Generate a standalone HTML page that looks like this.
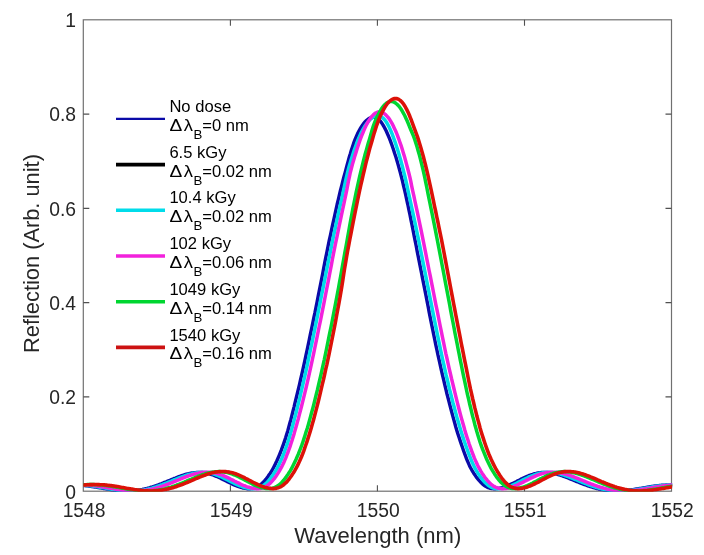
<!DOCTYPE html>
<html><head><meta charset="utf-8"><title>Reflection spectra</title>
<style>
html,body{margin:0;padding:0;background:#fff;}
svg{display:block}
text{font-family:"Liberation Sans",sans-serif;fill:#262626}
.tk{font-size:19.3px}
.ax{font-size:21.5px}
.lg{font-size:16px;fill:#000}
.sym{font-family:"Liberation Sans","DejaVu Sans",sans-serif;font-size:16.5px;fill:#000}
.sub{font-size:12.8px;fill:#000}
</style></head><body>
<svg width="704" height="555" viewBox="0 0 704 555">
<rect width="704" height="555" fill="#fff"/>
<g fill="none" stroke="#707070" stroke-width="1.2">
<rect x="83.3" y="19.8" width="588.2" height="471.4"/>
</g>
<g fill="none" stroke="#505050" stroke-width="1.1">
<path d="M230.4 491.2 v-6 M230.4 19.8 v6"/>
<path d="M377.4 491.2 v-6 M377.4 19.8 v6"/>
<path d="M524.5 491.2 v-6 M524.5 19.8 v6"/>
<path d="M83.3 396.9 h6 M671.5 396.9 h-6"/>
<path d="M83.3 302.6 h6 M671.5 302.6 h-6"/>
<path d="M83.3 208.4 h6 M671.5 208.4 h-6"/>
<path d="M83.3 114.1 h6 M671.5 114.1 h-6"/>
</g>
<clipPath id="c"><rect x="83.3" y="19.8" width="588.8" height="472.0"/></clipPath>
<g clip-path="url(#c)">
<polyline points="19.0,490.4 20.1,490.3 21.2,490.2 22.3,490.1 23.4,490.0 24.5,489.9 25.6,489.8 26.7,489.7 27.8,489.5 28.9,489.4 30.0,489.2 31.1,489.1 32.2,488.9 33.3,488.8 34.4,488.6 35.5,488.5 36.6,488.3 37.7,488.2 38.8,488.0 39.9,487.8 41.0,487.7 42.1,487.5 43.2,487.4 44.3,487.2 45.4,487.0 46.5,486.9 47.6,486.7 48.7,486.6 49.8,486.4 50.9,486.3 52.0,486.1 53.1,486.0 54.2,485.9 55.3,485.8 56.5,485.6 57.6,485.5 58.7,485.4 59.8,485.3 60.9,485.2 62.0,485.2 63.1,485.1 64.2,485.0 65.3,485.0 66.4,484.9 67.5,484.9 68.6,484.9 69.7,484.8 70.8,484.8 71.9,484.8 73.0,484.9 74.1,484.9 75.2,484.9 76.3,485.0 77.4,485.0 78.5,485.1 79.6,485.1 80.7,485.2 81.8,485.3 82.9,485.4 84.0,485.5 85.1,485.6 86.2,485.8 87.3,485.9 88.4,486.0 89.5,486.2 90.6,486.3 91.7,486.5 92.8,486.7 93.9,486.8 95.0,487.0 96.1,487.2 97.2,487.4 98.3,487.6 99.4,487.7 100.6,487.9 101.7,488.1 102.8,488.3 103.9,488.5 105.0,488.7 106.1,488.9 107.2,489.0 108.3,489.2 109.4,489.4 110.5,489.6 111.6,489.7 112.7,489.9 113.8,490.0 114.9,490.2 116.0,490.3 117.1,490.4 118.2,490.5 119.3,490.6 120.4,490.7 121.5,490.8 122.6,490.9 123.7,490.9 124.8,491.0 125.9,491.0 127.0,491.0 128.1,491.0 129.2,491.0 130.3,490.9 131.4,490.9 132.5,490.8 133.6,490.7 134.7,490.6 135.8,490.5 136.9,490.4 138.0,490.2 139.1,490.1 140.2,489.9 141.3,489.7 142.4,489.5 143.5,489.2 144.7,489.0 145.8,488.7 146.9,488.5 148.0,488.2 149.1,487.9 150.2,487.5 151.3,487.2 152.4,486.9 153.5,486.5 154.6,486.2 155.7,485.8 156.8,485.4 157.9,485.0 159.0,484.6 160.1,484.2 161.2,483.8 162.3,483.3 163.4,482.9 164.5,482.4 165.6,482.0 166.7,481.6 167.8,481.1 168.9,480.7 170.0,480.2 171.1,479.7 172.2,479.3 173.3,478.9 174.4,478.4 175.5,478.0 176.6,477.5 177.7,477.1 178.8,476.7 179.9,476.3 181.0,475.9 182.1,475.5 183.2,475.2 184.3,474.8 185.4,474.5 186.5,474.2 187.6,473.9 188.8,473.7 189.9,473.4 191.0,473.2 192.1,473.0 193.2,472.8 194.3,472.7 195.4,472.6 196.5,472.5 197.6,472.4 198.7,472.4 199.8,472.4 200.9,472.5 202.0,472.5 203.1,472.6 204.2,472.8 205.3,472.9 206.4,473.1 207.5,473.4 208.6,473.6 209.7,473.9 210.8,474.3 211.9,474.6 213.0,475.0 214.1,475.4 215.2,475.9 216.3,476.3 217.4,476.8 218.5,477.3 219.6,477.8 220.7,478.3 221.8,478.9 222.9,479.4 224.0,480.0 225.1,480.5 226.2,481.1 227.3,481.7 228.5,482.2 229.6,482.8 230.7,483.3 231.8,483.8 232.9,484.4 234.1,484.9 235.2,485.3 236.3,485.8 237.4,486.2 238.6,486.6 239.7,487.0 240.8,487.4 242.0,487.7 243.1,488.0 244.2,488.2 245.4,488.4 246.5,488.5 247.7,488.7 248.8,488.7 249.9,488.7 251.1,488.6 252.2,488.5 253.3,488.3 254.5,488.0 255.6,487.6 256.8,487.1 257.9,486.5 259.0,485.8 260.2,485.0 261.3,484.1 262.4,483.1 263.5,481.9 264.7,480.7 265.8,479.4 266.9,477.9 268.0,476.4 269.1,474.8 270.3,473.2 271.4,471.4 272.5,469.5 273.6,467.5 274.7,465.4 275.8,463.1 276.9,460.8 278.0,458.3 279.1,455.7 280.2,453.0 281.3,450.2 282.4,447.2 283.5,444.1 284.6,440.9 285.7,437.6 286.7,434.2 287.8,430.7 288.8,427.0 289.8,423.3 290.9,419.4 291.9,415.4 292.9,411.3 294.0,407.1 295.0,402.9 296.1,398.5 297.2,394.0 298.3,389.4 299.4,384.8 300.5,380.0 301.6,375.2 302.7,370.3 303.8,365.3 304.9,360.3 306.0,355.2 307.1,350.0 308.2,344.8 309.3,339.5 310.4,334.1 311.6,328.7 312.7,323.3 313.8,317.8 315.0,312.4 316.1,306.8 317.2,301.3 318.3,295.7 319.4,290.2 320.5,284.6 321.6,279.1 322.7,273.5 323.7,268.0 324.8,262.4 325.9,256.9 327.0,251.5 328.1,246.0 329.2,240.6 330.4,235.3 331.5,230.0 332.6,224.8 333.8,219.6 334.9,214.5 336.0,209.5 337.1,204.5 338.3,199.7 339.4,194.9 340.5,190.2 341.7,185.7 342.8,181.2 343.9,176.9 345.1,172.6 346.2,168.5 347.2,164.6 348.3,160.7 349.3,157.0 350.4,153.5 351.4,150.0 352.5,146.8 353.5,143.7 354.6,140.7 355.7,137.9 356.9,135.3 358.0,132.8 359.2,130.5 360.4,128.4 361.6,126.5 362.8,124.7 364.0,123.1 365.2,121.7 366.4,120.5 367.6,119.5 368.8,118.6 370.0,118.0 371.1,117.5 372.3,117.2 373.4,117.1 374.5,117.2 375.5,117.5 376.6,118.0 377.7,118.6 378.7,119.5 379.7,120.5 380.8,121.7 381.8,123.1 382.8,124.7 383.9,126.5 384.9,128.4 386.0,130.5 387.0,132.8 388.1,135.3 389.2,137.9 390.3,140.7 391.4,143.7 392.5,146.8 393.6,150.0 394.7,153.5 395.9,157.0 397.0,160.7 398.1,164.6 399.2,168.5 400.3,172.6 401.4,176.9 402.5,181.2 403.5,185.7 404.6,190.2 405.7,194.9 406.7,199.7 407.8,204.5 408.8,209.5 409.9,214.5 410.9,219.6 412.0,224.8 413.0,230.0 414.0,235.3 415.1,240.6 416.2,246.0 417.2,251.5 418.3,256.9 419.4,262.4 420.5,268.0 421.6,273.5 422.7,279.1 423.8,284.6 424.9,290.2 426.0,295.7 427.1,301.3 428.2,306.8 429.2,312.4 430.3,317.8 431.4,323.3 432.5,328.7 433.6,334.1 434.7,339.5 435.8,344.8 436.9,350.0 438.0,355.2 439.2,360.3 440.3,365.3 441.4,370.3 442.5,375.2 443.7,380.0 444.8,384.8 445.9,389.4 447.0,394.0 448.2,398.5 449.3,402.9 450.4,407.1 451.5,411.3 452.6,415.4 453.7,419.4 454.8,423.3 455.8,427.0 456.9,430.7 458.0,434.2 459.1,437.6 460.2,440.9 461.3,444.1 462.4,447.2 463.4,450.2 464.4,453.0 465.4,455.7 466.4,458.3 467.4,460.8 468.4,463.1 469.4,465.4 470.4,467.5 471.5,469.5 472.6,471.4 473.7,473.2 474.8,474.8 475.9,476.4 477.0,477.9 478.2,479.4 479.3,480.7 480.4,481.9 481.5,483.1 482.6,484.1 483.7,485.0 484.9,485.8 486.0,486.5 487.1,487.1 488.2,487.6 489.3,488.0 490.5,488.3 491.6,488.5 492.7,488.6 493.8,488.7 495.0,488.7 496.1,488.7 497.2,488.5 498.3,488.4 499.4,488.2 500.6,488.0 501.7,487.7 502.8,487.4 503.9,487.0 505.1,486.6 506.2,486.2 507.3,485.8 508.4,485.3 509.5,484.9 510.6,484.4 511.7,483.8 512.9,483.3 514.0,482.8 515.1,482.2 516.2,481.7 517.3,481.1 518.4,480.5 519.5,480.0 520.6,479.4 521.7,478.9 522.8,478.3 523.9,477.8 525.0,477.3 526.1,476.8 527.2,476.3 528.3,475.9 529.4,475.4 530.5,475.0 531.6,474.6 532.7,474.3 533.8,473.9 534.9,473.6 536.0,473.4 537.1,473.1 538.2,472.9 539.3,472.8 540.4,472.6 541.6,472.5 542.7,472.5 543.8,472.4 544.9,472.4 546.0,472.4 547.1,472.5 548.2,472.6 549.3,472.7 550.4,472.8 551.5,473.0 552.6,473.2 553.7,473.4 554.8,473.7 555.9,473.9 557.0,474.2 558.1,474.5 559.2,474.8 560.3,475.2 561.4,475.5 562.5,475.9 563.6,476.3 564.7,476.7 565.8,477.1 566.9,477.5 568.0,478.0 569.1,478.4 570.2,478.9 571.3,479.3 572.4,479.7 573.5,480.2 574.6,480.7 575.7,481.1 576.8,481.6 577.9,482.0 579.0,482.4 580.1,482.9 581.2,483.3 582.3,483.8 583.4,484.2 584.5,484.6 585.7,485.0 586.8,485.4 587.9,485.8 589.0,486.2 590.1,486.5 591.2,486.9 592.3,487.2 593.4,487.5 594.5,487.9 595.6,488.2 596.7,488.5 597.8,488.7 598.9,489.0 600.0,489.2 601.1,489.5 602.2,489.7 603.3,489.9 604.4,490.1 605.5,490.2 606.6,490.4 607.7,490.5 608.8,490.6 609.9,490.7 611.0,490.8 612.1,490.9 613.2,490.9 614.3,491.0 615.4,491.0 616.5,491.0 617.6,491.0 618.7,491.0 619.8,490.9 620.9,490.9 622.0,490.8 623.1,490.7 624.2,490.6 625.3,490.5 626.4,490.4 627.5,490.3 628.6,490.2 629.8,490.0 630.9,489.9 632.0,489.7 633.1,489.6 634.2,489.4 635.3,489.2 636.4,489.0 637.5,488.9 638.6,488.7 639.7,488.5 640.8,488.3 641.9,488.1 643.0,487.9 644.1,487.7 645.2,487.6 646.3,487.4 647.4,487.2 648.5,487.0 649.6,486.8 650.7,486.7 651.8,486.5 652.9,486.3 654.0,486.2 655.1,486.0 656.2,485.9 657.3,485.8 658.4,485.6 659.5,485.5 660.6,485.4 661.7,485.3 662.8,485.2 663.9,485.1 665.0,485.1 666.1,485.0 667.2,485.0 668.3,484.9 669.4,484.9 670.5,484.9 671.6,484.8 672.7,484.8 673.9,484.8 675.0,484.9 676.1,484.9 677.2,484.9 678.3,485.0 679.4,485.0 680.5,485.1 681.6,485.2 682.7,485.2 683.8,485.3 684.9,485.4 686.0,485.5 687.1,485.6 688.2,485.8 689.3,485.9 690.4,486.0 691.5,486.1 692.6,486.3 693.7,486.4 694.8,486.6 695.9,486.7 697.0,486.9 698.1,487.0 699.2,487.2 700.3,487.4 701.4,487.5 702.5,487.7 703.6,487.8 704.7,488.0 705.8,488.2 706.9,488.3 708.0,488.5 709.1,488.6 710.2,488.8 711.3,488.9 712.4,489.1 713.5,489.2 714.6,489.4 715.7,489.5 716.8,489.7 718.0,489.8 719.1,489.9 720.2,490.0 721.3,490.1 722.4,490.2 723.5,490.3 724.6,490.4" fill="none" stroke="#0A0AA8" stroke-width="3.4" stroke-linejoin="round"/>
<polyline points="22.5,490.4 23.6,490.3 24.7,490.2 25.8,490.1 26.9,490.0 28.0,489.9 29.1,489.8 30.2,489.6 31.3,489.5 32.4,489.4 33.5,489.2 34.6,489.1 35.7,488.9 36.8,488.8 37.9,488.6 39.0,488.5 40.1,488.3 41.2,488.2 42.3,488.0 43.4,487.8 44.5,487.7 45.6,487.5 46.8,487.3 47.9,487.2 49.0,487.0 50.1,486.9 51.2,486.7 52.3,486.6 53.4,486.4 54.5,486.3 55.6,486.1 56.7,486.0 57.8,485.9 58.9,485.7 60.0,485.6 61.1,485.5 62.2,485.4 63.3,485.3 64.4,485.2 65.5,485.1 66.6,485.1 67.7,485.0 68.8,484.9 69.9,484.9 71.0,484.9 72.1,484.8 73.2,484.8 74.3,484.8 75.4,484.8 76.5,484.8 77.6,484.9 78.7,484.9 79.8,484.9 80.9,485.0 82.0,485.0 83.1,485.1 84.2,485.2 85.3,485.3 86.4,485.4 87.5,485.5 88.6,485.6 89.7,485.7 90.8,485.9 92.0,486.0 93.1,486.2 94.2,486.3 95.3,486.5 96.4,486.6 97.5,486.8 98.6,487.0 99.7,487.2 100.8,487.4 101.9,487.5 103.0,487.7 104.1,487.9 105.2,488.1 106.3,488.3 107.4,488.5 108.5,488.7 109.6,488.9 110.7,489.0 111.8,489.2 112.9,489.4 114.0,489.6 115.1,489.7 116.2,489.9 117.3,490.0 118.4,490.2 119.5,490.3 120.6,490.4 121.7,490.5 122.8,490.6 123.9,490.7 125.0,490.8 126.1,490.9 127.2,490.9 128.3,491.0 129.4,491.0 130.5,491.0 131.6,491.0 132.7,491.0 133.8,490.9 134.9,490.9 136.1,490.8 137.2,490.7 138.3,490.6 139.4,490.5 140.5,490.4 141.6,490.2 142.7,490.1 143.8,489.9 144.9,489.7 146.0,489.5 147.1,489.2 148.2,489.0 149.3,488.7 150.4,488.4 151.5,488.2 152.6,487.9 153.7,487.5 154.8,487.2 155.9,486.9 157.0,486.5 158.1,486.1 159.2,485.8 160.3,485.4 161.4,485.0 162.5,484.6 163.6,484.1 164.7,483.7 165.8,483.3 166.9,482.9 168.0,482.4 169.1,482.0 170.2,481.5 171.3,481.1 172.4,480.6 173.5,480.2 174.6,479.7 175.7,479.3 176.8,478.8 177.9,478.4 179.0,477.9 180.2,477.5 181.3,477.1 182.4,476.7 183.5,476.3 184.6,475.9 185.7,475.5 186.8,475.1 187.9,474.8 189.0,474.5 190.1,474.1 191.2,473.9 192.3,473.6 193.4,473.3 194.5,473.1 195.6,472.9 196.7,472.8 197.8,472.6 198.9,472.5 200.0,472.4 201.1,472.4 202.2,472.3 203.3,472.4 204.4,472.4 205.5,472.5 206.6,472.6 207.7,472.7 208.8,472.9 209.9,473.1 211.0,473.3 212.1,473.6 213.2,473.9 214.3,474.2 215.4,474.6 216.5,475.0 217.6,475.4 218.7,475.8 219.8,476.3 220.9,476.7 222.0,477.2 223.1,477.8 224.3,478.3 225.4,478.8 226.5,479.4 227.6,479.9 228.7,480.5 229.8,481.1 230.9,481.6 232.0,482.2 233.1,482.7 234.2,483.3 235.4,483.8 236.5,484.3 237.6,484.8 238.8,485.3 239.9,485.8 241.1,486.2 242.2,486.6 243.3,487.0 244.5,487.4 245.6,487.7 246.8,487.9 247.9,488.2 249.1,488.4 250.3,488.5 251.4,488.6 252.6,488.7 253.7,488.7 254.9,488.6 256.0,488.5 257.2,488.3 258.3,488.0 259.5,487.6 260.6,487.1 261.8,486.5 262.9,485.8 264.1,485.0 265.2,484.0 266.4,483.0 267.5,481.9 268.6,480.7 269.8,479.3 270.9,477.9 272.0,476.4 273.1,474.8 274.2,473.1 275.4,471.3 276.5,469.4 277.6,467.4 278.7,465.3 279.7,463.0 280.8,460.7 281.9,458.2 283.0,455.6 284.1,452.9 285.1,450.0 286.2,447.0 287.3,443.9 288.3,440.7 289.4,437.4 290.4,434.0 291.4,430.4 292.4,426.8 293.4,423.0 294.4,419.1 295.5,415.1 296.5,411.0 297.5,406.8 298.6,402.5 299.7,398.1 300.7,393.6 301.8,389.1 302.9,384.4 304.0,379.6 305.1,374.8 306.2,369.9 307.3,364.9 308.3,359.8 309.4,354.7 310.5,349.5 311.7,344.2 312.8,338.9 313.9,333.5 315.0,328.1 316.1,322.7 317.2,317.2 318.3,311.7 319.4,306.1 320.5,300.6 321.6,295.0 322.8,289.4 323.9,283.8 325.0,278.3 326.1,272.7 327.2,267.1 328.3,261.6 329.5,256.0 330.6,250.6 331.7,245.1 332.8,239.7 333.9,234.3 335.1,229.0 336.2,223.7 337.3,218.6 338.4,213.4 339.5,208.4 340.7,203.4 341.8,198.6 342.8,193.8 343.8,189.1 344.8,184.5 345.8,180.0 346.8,175.7 347.8,171.4 348.9,167.3 350.1,163.3 351.2,159.5 352.4,155.8 353.5,152.2 354.7,148.8 355.9,145.5 357.0,142.4 358.2,139.4 359.4,136.6 360.6,133.9 361.8,131.5 363.1,129.2 364.3,127.0 365.6,125.1 366.9,123.3 368.1,121.7 369.4,120.3 370.6,119.1 371.9,118.1 373.1,117.2 374.3,116.5 375.5,116.1 376.6,115.8 377.7,115.7 378.8,115.8 379.9,116.1 381.0,116.5 382.0,117.2 383.0,118.1 384.1,119.1 385.1,120.3 386.1,121.7 387.1,123.3 388.1,125.1 389.1,127.0 390.1,129.2 391.1,131.5 392.1,133.9 393.1,136.6 394.1,139.4 395.2,142.4 396.2,145.5 397.3,148.8 398.4,152.2 399.4,155.8 400.5,159.5 401.5,163.3 402.6,167.3 403.6,171.4 404.7,175.7 405.7,180.0 406.7,184.5 407.7,189.1 408.7,193.8 409.8,198.6 410.8,203.4 411.9,208.4 413.0,213.4 414.1,218.6 415.2,223.7 416.3,229.0 417.4,234.3 418.5,239.7 419.6,245.1 420.7,250.6 421.8,256.0 422.9,261.6 424.0,267.1 425.1,272.7 426.2,278.3 427.3,283.8 428.4,289.4 429.5,295.0 430.6,300.6 431.7,306.1 432.8,311.7 433.9,317.2 435.0,322.7 436.1,328.1 437.2,333.5 438.3,338.9 439.4,344.2 440.5,349.5 441.6,354.7 442.7,359.8 443.9,364.9 445.0,369.9 446.1,374.8 447.3,379.6 448.4,384.4 449.5,389.1 450.7,393.6 451.8,398.1 452.9,402.5 454.1,406.8 455.2,411.0 456.3,415.1 457.4,419.1 458.6,423.0 459.7,426.8 460.8,430.4 461.9,434.0 463.0,437.4 464.1,440.7 465.2,443.9 466.3,447.0 467.4,450.0 468.4,452.9 469.5,455.6 470.5,458.2 471.5,460.7 472.5,463.0 473.6,465.3 474.6,467.4 475.7,469.4 476.8,471.3 477.9,473.1 479.0,474.8 480.1,476.4 481.2,477.9 482.3,479.3 483.4,480.7 484.5,481.9 485.6,483.0 486.7,484.0 487.8,485.0 488.9,485.8 490.0,486.5 491.1,487.1 492.2,487.6 493.3,488.0 494.4,488.3 495.5,488.5 496.6,488.6 497.7,488.7 498.8,488.7 499.9,488.6 501.0,488.5 502.1,488.4 503.2,488.2 504.3,487.9 505.4,487.7 506.5,487.4 507.6,487.0 508.7,486.6 509.8,486.2 510.9,485.8 512.0,485.3 513.1,484.8 514.2,484.3 515.3,483.8 516.4,483.3 517.5,482.7 518.6,482.2 519.7,481.6 520.8,481.1 521.9,480.5 523.0,479.9 524.1,479.4 525.2,478.8 526.3,478.3 527.4,477.8 528.5,477.2 529.6,476.7 530.7,476.3 531.8,475.8 533.0,475.4 534.1,475.0 535.2,474.6 536.3,474.2 537.4,473.9 538.5,473.6 539.6,473.3 540.7,473.1 541.8,472.9 542.9,472.7 544.0,472.6 545.1,472.5 546.2,472.4 547.3,472.4 548.4,472.3 549.5,472.4 550.6,472.4 551.7,472.5 552.8,472.6 553.9,472.8 555.0,472.9 556.1,473.1 557.2,473.3 558.3,473.6 559.4,473.9 560.5,474.1 561.6,474.5 562.7,474.8 563.8,475.1 564.9,475.5 566.0,475.9 567.1,476.3 568.2,476.7 569.3,477.1 570.4,477.5 571.5,477.9 572.6,478.4 573.7,478.8 574.8,479.3 575.9,479.7 577.1,480.2 578.2,480.6 579.3,481.1 580.4,481.5 581.5,482.0 582.6,482.4 583.7,482.9 584.8,483.3 585.9,483.7 587.0,484.1 588.1,484.6 589.2,485.0 590.3,485.4 591.4,485.8 592.5,486.1 593.6,486.5 594.7,486.9 595.8,487.2 596.9,487.5 598.0,487.9 599.1,488.2 600.2,488.4 601.3,488.7 602.4,489.0 603.5,489.2 604.6,489.5 605.7,489.7 606.8,489.9 607.9,490.1 609.0,490.2 610.1,490.4 611.2,490.5 612.3,490.6 613.4,490.7 614.5,490.8 615.6,490.9 616.7,490.9 617.8,491.0 618.9,491.0 620.0,491.0 621.2,491.0 622.3,491.0 623.4,490.9 624.5,490.9 625.6,490.8 626.7,490.7 627.8,490.6 628.9,490.5 630.0,490.4 631.1,490.3 632.2,490.2 633.3,490.0 634.4,489.9 635.5,489.7 636.6,489.6 637.7,489.4 638.8,489.2 639.9,489.0 641.0,488.9 642.1,488.7 643.2,488.5 644.3,488.3 645.4,488.1 646.5,487.9 647.6,487.7 648.7,487.5 649.8,487.4 650.9,487.2 652.0,487.0 653.1,486.8 654.2,486.6 655.3,486.5 656.4,486.3 657.5,486.2 658.6,486.0 659.7,485.9 660.8,485.7 661.9,485.6 663.0,485.5 664.1,485.4 665.3,485.3 666.4,485.2 667.5,485.1 668.6,485.0 669.7,485.0 670.8,484.9 671.9,484.9 673.0,484.9 674.1,484.8 675.2,484.8 676.3,484.8 677.4,484.8 678.5,484.8 679.6,484.9 680.7,484.9 681.8,484.9 682.9,485.0 684.0,485.1 685.1,485.1 686.2,485.2 687.3,485.3 688.4,485.4 689.5,485.5 690.6,485.6 691.7,485.7 692.8,485.9 693.9,486.0 695.0,486.1 696.1,486.3 697.2,486.4 698.3,486.6 699.4,486.7 700.5,486.9 701.6,487.0 702.7,487.2 703.8,487.3 704.9,487.5 706.0,487.7 707.1,487.8 708.2,488.0 709.4,488.2 710.5,488.3 711.6,488.5 712.7,488.6 713.8,488.8 714.9,488.9 716.0,489.1 717.1,489.2 718.2,489.4 719.3,489.5 720.4,489.6 721.5,489.8 722.6,489.9 723.7,490.0 724.8,490.1 725.9,490.2 727.0,490.3 728.1,490.4" fill="none" stroke="#000000" stroke-width="2.0" stroke-linejoin="round"/>
<polyline points="22.5,490.4 23.6,490.3 24.7,490.2 25.8,490.1 26.9,490.0 28.0,489.9 29.1,489.8 30.2,489.6 31.3,489.5 32.4,489.4 33.5,489.2 34.6,489.1 35.7,488.9 36.8,488.8 37.9,488.6 39.0,488.5 40.1,488.3 41.2,488.2 42.3,488.0 43.4,487.8 44.5,487.7 45.6,487.5 46.8,487.3 47.9,487.2 49.0,487.0 50.1,486.9 51.2,486.7 52.3,486.6 53.4,486.4 54.5,486.3 55.6,486.1 56.7,486.0 57.8,485.9 58.9,485.7 60.0,485.6 61.1,485.5 62.2,485.4 63.3,485.3 64.4,485.2 65.5,485.1 66.6,485.1 67.7,485.0 68.8,484.9 69.9,484.9 71.0,484.9 72.1,484.8 73.2,484.8 74.3,484.8 75.4,484.8 76.5,484.8 77.6,484.9 78.7,484.9 79.8,484.9 80.9,485.0 82.0,485.0 83.1,485.1 84.2,485.2 85.3,485.3 86.4,485.4 87.5,485.5 88.6,485.6 89.7,485.7 90.8,485.9 92.0,486.0 93.1,486.2 94.2,486.3 95.3,486.5 96.4,486.6 97.5,486.8 98.6,487.0 99.7,487.2 100.8,487.4 101.9,487.5 103.0,487.7 104.1,487.9 105.2,488.1 106.3,488.3 107.4,488.5 108.5,488.7 109.6,488.9 110.7,489.0 111.8,489.2 112.9,489.4 114.0,489.6 115.1,489.7 116.2,489.9 117.3,490.0 118.4,490.2 119.5,490.3 120.6,490.4 121.7,490.5 122.8,490.6 123.9,490.7 125.0,490.8 126.1,490.9 127.2,490.9 128.3,491.0 129.4,491.0 130.5,491.0 131.6,491.0 132.7,491.0 133.8,490.9 134.9,490.9 136.1,490.8 137.2,490.7 138.3,490.6 139.4,490.5 140.5,490.4 141.6,490.2 142.7,490.1 143.8,489.9 144.9,489.7 146.0,489.5 147.1,489.2 148.2,489.0 149.3,488.7 150.4,488.4 151.5,488.2 152.6,487.9 153.7,487.5 154.8,487.2 155.9,486.9 157.0,486.5 158.1,486.1 159.2,485.8 160.3,485.4 161.4,485.0 162.5,484.6 163.6,484.1 164.7,483.7 165.8,483.3 166.9,482.9 168.0,482.4 169.1,482.0 170.2,481.5 171.3,481.1 172.4,480.6 173.5,480.2 174.6,479.7 175.7,479.3 176.8,478.8 177.9,478.4 179.0,477.9 180.2,477.5 181.3,477.1 182.4,476.7 183.5,476.3 184.6,475.9 185.7,475.5 186.8,475.1 187.9,474.8 189.0,474.5 190.1,474.1 191.2,473.9 192.3,473.6 193.4,473.3 194.5,473.1 195.6,472.9 196.7,472.8 197.8,472.6 198.9,472.5 200.0,472.4 201.1,472.4 202.2,472.3 203.3,472.4 204.4,472.4 205.5,472.5 206.6,472.6 207.7,472.7 208.8,472.9 209.9,473.1 211.0,473.3 212.1,473.6 213.2,473.9 214.3,474.2 215.4,474.6 216.5,475.0 217.6,475.4 218.7,475.8 219.8,476.3 220.9,476.7 222.0,477.2 223.1,477.8 224.3,478.3 225.4,478.8 226.5,479.4 227.6,479.9 228.7,480.5 229.8,481.1 230.9,481.6 232.0,482.2 233.1,482.7 234.2,483.3 235.4,483.8 236.5,484.3 237.6,484.8 238.8,485.3 239.9,485.8 241.1,486.2 242.2,486.6 243.3,487.0 244.5,487.4 245.6,487.7 246.8,487.9 247.9,488.2 249.1,488.4 250.3,488.5 251.4,488.6 252.6,488.7 253.7,488.7 254.9,488.6 256.0,488.5 257.2,488.3 258.3,488.0 259.5,487.6 260.6,487.1 261.8,486.5 262.9,485.8 264.1,485.0 265.2,484.0 266.4,483.0 267.5,481.9 268.6,480.7 269.8,479.3 270.9,477.9 272.0,476.4 273.1,474.8 274.2,473.1 275.4,471.3 276.5,469.4 277.6,467.4 278.7,465.3 279.7,463.0 280.8,460.7 281.9,458.2 283.0,455.6 284.1,452.9 285.1,450.0 286.2,447.0 287.3,443.9 288.3,440.7 289.4,437.4 290.4,434.0 291.4,430.4 292.4,426.8 293.4,423.0 294.4,419.1 295.5,415.1 296.5,411.0 297.5,406.8 298.6,402.5 299.7,398.1 300.7,393.6 301.8,389.1 302.9,384.4 304.0,379.6 305.1,374.8 306.2,369.9 307.3,364.9 308.3,359.8 309.4,354.7 310.5,349.5 311.7,344.2 312.8,338.9 313.9,333.5 315.0,328.1 316.1,322.7 317.2,317.2 318.3,311.7 319.4,306.1 320.5,300.6 321.6,295.0 322.8,289.4 323.9,283.8 325.0,278.3 326.1,272.7 327.2,267.1 328.3,261.6 329.5,256.0 330.6,250.6 331.7,245.1 332.8,239.7 333.9,234.3 335.1,229.0 336.2,223.7 337.3,218.6 338.4,213.4 339.5,208.4 340.7,203.4 341.8,198.6 342.8,193.8 343.8,189.1 344.8,184.5 345.8,180.0 346.8,175.7 347.8,171.4 348.9,167.3 350.1,163.3 351.2,159.5 352.4,155.8 353.5,152.2 354.7,148.8 355.9,145.5 357.0,142.4 358.2,139.4 359.4,136.6 360.6,133.9 361.8,131.5 363.1,129.2 364.3,127.0 365.6,125.1 366.9,123.3 368.1,121.7 369.4,120.3 370.6,119.1 371.9,118.1 373.1,117.2 374.3,116.5 375.5,116.1 376.6,115.8 377.7,115.7 378.8,115.8 379.9,116.1 381.0,116.5 382.0,117.2 383.0,118.1 384.1,119.1 385.1,120.3 386.1,121.7 387.1,123.3 388.1,125.1 389.1,127.0 390.1,129.2 391.1,131.5 392.1,133.9 393.1,136.6 394.1,139.4 395.2,142.4 396.2,145.5 397.3,148.8 398.4,152.2 399.4,155.8 400.5,159.5 401.5,163.3 402.6,167.3 403.6,171.4 404.7,175.7 405.7,180.0 406.7,184.5 407.7,189.1 408.7,193.8 409.8,198.6 410.8,203.4 411.9,208.4 413.0,213.4 414.1,218.6 415.2,223.7 416.3,229.0 417.4,234.3 418.5,239.7 419.6,245.1 420.7,250.6 421.8,256.0 422.9,261.6 424.0,267.1 425.1,272.7 426.2,278.3 427.3,283.8 428.4,289.4 429.5,295.0 430.6,300.6 431.7,306.1 432.8,311.7 433.9,317.2 435.0,322.7 436.1,328.1 437.2,333.5 438.3,338.9 439.4,344.2 440.5,349.5 441.6,354.7 442.7,359.8 443.9,364.9 445.0,369.9 446.1,374.8 447.3,379.6 448.4,384.4 449.5,389.1 450.7,393.6 451.8,398.1 452.9,402.5 454.1,406.8 455.2,411.0 456.3,415.1 457.4,419.1 458.6,423.0 459.7,426.8 460.8,430.4 461.9,434.0 463.0,437.4 464.1,440.7 465.2,443.9 466.3,447.0 467.4,450.0 468.4,452.9 469.5,455.6 470.5,458.2 471.5,460.7 472.5,463.0 473.6,465.3 474.6,467.4 475.7,469.4 476.8,471.3 477.9,473.1 479.0,474.8 480.1,476.4 481.2,477.9 482.3,479.3 483.4,480.7 484.5,481.9 485.6,483.0 486.7,484.0 487.8,485.0 488.9,485.8 490.0,486.5 491.1,487.1 492.2,487.6 493.3,488.0 494.4,488.3 495.5,488.5 496.6,488.6 497.7,488.7 498.8,488.7 499.9,488.6 501.0,488.5 502.1,488.4 503.2,488.2 504.3,487.9 505.4,487.7 506.5,487.4 507.6,487.0 508.7,486.6 509.8,486.2 510.9,485.8 512.0,485.3 513.1,484.8 514.2,484.3 515.3,483.8 516.4,483.3 517.5,482.7 518.6,482.2 519.7,481.6 520.8,481.1 521.9,480.5 523.0,479.9 524.1,479.4 525.2,478.8 526.3,478.3 527.4,477.8 528.5,477.2 529.6,476.7 530.7,476.3 531.8,475.8 533.0,475.4 534.1,475.0 535.2,474.6 536.3,474.2 537.4,473.9 538.5,473.6 539.6,473.3 540.7,473.1 541.8,472.9 542.9,472.7 544.0,472.6 545.1,472.5 546.2,472.4 547.3,472.4 548.4,472.3 549.5,472.4 550.6,472.4 551.7,472.5 552.8,472.6 553.9,472.8 555.0,472.9 556.1,473.1 557.2,473.3 558.3,473.6 559.4,473.9 560.5,474.1 561.6,474.5 562.7,474.8 563.8,475.1 564.9,475.5 566.0,475.9 567.1,476.3 568.2,476.7 569.3,477.1 570.4,477.5 571.5,477.9 572.6,478.4 573.7,478.8 574.8,479.3 575.9,479.7 577.1,480.2 578.2,480.6 579.3,481.1 580.4,481.5 581.5,482.0 582.6,482.4 583.7,482.9 584.8,483.3 585.9,483.7 587.0,484.1 588.1,484.6 589.2,485.0 590.3,485.4 591.4,485.8 592.5,486.1 593.6,486.5 594.7,486.9 595.8,487.2 596.9,487.5 598.0,487.9 599.1,488.2 600.2,488.4 601.3,488.7 602.4,489.0 603.5,489.2 604.6,489.5 605.7,489.7 606.8,489.9 607.9,490.1 609.0,490.2 610.1,490.4 611.2,490.5 612.3,490.6 613.4,490.7 614.5,490.8 615.6,490.9 616.7,490.9 617.8,491.0 618.9,491.0 620.0,491.0 621.2,491.0 622.3,491.0 623.4,490.9 624.5,490.9 625.6,490.8 626.7,490.7 627.8,490.6 628.9,490.5 630.0,490.4 631.1,490.3 632.2,490.2 633.3,490.0 634.4,489.9 635.5,489.7 636.6,489.6 637.7,489.4 638.8,489.2 639.9,489.0 641.0,488.9 642.1,488.7 643.2,488.5 644.3,488.3 645.4,488.1 646.5,487.9 647.6,487.7 648.7,487.5 649.8,487.4 650.9,487.2 652.0,487.0 653.1,486.8 654.2,486.6 655.3,486.5 656.4,486.3 657.5,486.2 658.6,486.0 659.7,485.9 660.8,485.7 661.9,485.6 663.0,485.5 664.1,485.4 665.3,485.3 666.4,485.2 667.5,485.1 668.6,485.0 669.7,485.0 670.8,484.9 671.9,484.9 673.0,484.9 674.1,484.8 675.2,484.8 676.3,484.8 677.4,484.8 678.5,484.8 679.6,484.9 680.7,484.9 681.8,484.9 682.9,485.0 684.0,485.1 685.1,485.1 686.2,485.2 687.3,485.3 688.4,485.4 689.5,485.5 690.6,485.6 691.7,485.7 692.8,485.9 693.9,486.0 695.0,486.1 696.1,486.3 697.2,486.4 698.3,486.6 699.4,486.7 700.5,486.9 701.6,487.0 702.7,487.2 703.8,487.3 704.9,487.5 706.0,487.7 707.1,487.8 708.2,488.0 709.4,488.2 710.5,488.3 711.6,488.5 712.7,488.6 713.8,488.8 714.9,488.9 716.0,489.1 717.1,489.2 718.2,489.4 719.3,489.5 720.4,489.6 721.5,489.8 722.6,489.9 723.7,490.0 724.8,490.1 725.9,490.2 727.0,490.3 728.1,490.4" fill="none" stroke="#00DCEA" stroke-width="3.5" stroke-linejoin="round"/>
<polyline points="27.1,490.4 28.2,490.3 29.3,490.2 30.4,490.1 31.5,490.0 32.6,489.9 33.7,489.8 34.8,489.6 35.9,489.5 37.0,489.4 38.1,489.2 39.2,489.1 40.3,488.9 41.4,488.8 42.5,488.6 43.6,488.4 44.7,488.3 45.8,488.1 46.9,488.0 48.0,487.8 49.1,487.6 50.2,487.5 51.3,487.3 52.4,487.1 53.5,487.0 54.6,486.8 55.7,486.7 56.8,486.5 57.9,486.4 59.0,486.2 60.1,486.1 61.2,485.9 62.3,485.8 63.4,485.7 64.5,485.6 65.6,485.5 66.7,485.3 67.8,485.2 68.9,485.2 70.0,485.1 71.2,485.0 72.3,484.9 73.4,484.9 74.5,484.8 75.6,484.8 76.7,484.8 77.8,484.8 78.9,484.8 80.0,484.8 81.1,484.8 82.2,484.8 83.3,484.8 84.4,484.9 85.5,484.9 86.6,485.0 87.7,485.1 88.8,485.1 89.9,485.2 91.0,485.3 92.1,485.4 93.2,485.6 94.3,485.7 95.4,485.8 96.5,486.0 97.6,486.1 98.7,486.3 99.8,486.4 100.9,486.6 102.0,486.8 103.1,487.0 104.2,487.1 105.3,487.3 106.4,487.5 107.5,487.7 108.6,487.9 109.7,488.1 110.8,488.3 111.9,488.5 113.0,488.6 114.1,488.8 115.3,489.0 116.4,489.2 117.5,489.4 118.6,489.5 119.7,489.7 120.8,489.9 121.9,490.0 123.0,490.2 124.1,490.3 125.2,490.4 126.3,490.5 127.4,490.6 128.5,490.7 129.6,490.8 130.7,490.9 131.8,490.9 132.9,491.0 134.0,491.0 135.1,491.0 136.2,491.0 137.3,491.0 138.4,490.9 139.5,490.9 140.6,490.8 141.7,490.7 142.8,490.6 143.9,490.5 145.0,490.4 146.1,490.2 147.2,490.0 148.3,489.9 149.4,489.7 150.5,489.4 151.6,489.2 152.7,489.0 153.8,488.7 154.9,488.4 156.0,488.1 157.1,487.8 158.2,487.5 159.4,487.2 160.5,486.8 161.6,486.5 162.7,486.1 163.8,485.7 164.9,485.3 166.0,484.9 167.1,484.5 168.2,484.1 169.3,483.7 170.4,483.2 171.5,482.8 172.6,482.3 173.7,481.9 174.8,481.4 175.9,481.0 177.0,480.5 178.1,480.0 179.2,479.6 180.3,479.1 181.4,478.7 182.5,478.2 183.6,477.8 184.7,477.4 185.8,476.9 186.9,476.5 188.0,476.1 189.1,475.7 190.2,475.3 191.3,475.0 192.4,474.6 193.5,474.3 194.6,474.0 195.7,473.7 196.8,473.4 197.9,473.2 199.0,472.9 200.1,472.7 201.2,472.6 202.3,472.4 203.5,472.3 204.6,472.2 205.7,472.2 206.8,472.2 207.9,472.2 209.0,472.2 210.1,472.3 211.2,472.4 212.3,472.5 213.4,472.7 214.5,472.9 215.6,473.1 216.7,473.4 217.8,473.7 218.9,474.0 220.0,474.4 221.1,474.8 222.2,475.2 223.3,475.6 224.4,476.1 225.5,476.6 226.6,477.1 227.7,477.6 228.8,478.2 229.9,478.7 231.0,479.3 232.1,479.8 233.2,480.4 234.3,481.0 235.4,481.5 236.5,482.1 237.7,482.7 238.8,483.2 239.9,483.7 241.0,484.3 242.1,484.8 243.3,485.3 244.4,485.7 245.5,486.2 246.6,486.6 247.8,487.0 248.9,487.3 250.0,487.6 251.2,487.9 252.3,488.2 253.4,488.4 254.6,488.5 255.7,488.6 256.8,488.7 258.0,488.7 259.1,488.6 260.2,488.5 261.4,488.2 262.5,487.9 263.6,487.5 264.8,487.0 265.9,486.4 267.0,485.7 268.2,484.9 269.3,484.0 270.4,482.9 271.5,481.8 272.6,480.6 273.8,479.2 274.9,477.8 276.0,476.2 277.1,474.6 278.2,472.9 279.3,471.1 280.4,469.2 281.5,467.2 282.6,465.0 283.7,462.8 284.7,460.4 285.8,457.9 286.8,455.2 287.9,452.5 288.9,449.6 290.0,446.6 291.0,443.5 292.1,440.2 293.1,436.9 294.2,433.4 295.2,429.8 296.3,426.1 297.3,422.3 298.4,418.4 299.4,414.4 300.5,410.2 301.6,406.0 302.7,401.6 303.8,397.2 304.9,392.7 306.0,388.0 307.1,383.3 308.2,378.5 309.3,373.6 310.4,368.6 311.5,363.6 312.6,358.5 313.7,353.3 314.8,348.0 315.9,342.7 317.0,337.4 318.1,331.9 319.2,326.5 320.4,321.0 321.5,315.4 322.6,309.9 323.7,304.3 324.8,298.7 325.9,293.0 327.0,287.4 328.1,281.8 329.2,276.1 330.3,270.5 331.4,264.9 332.4,259.3 333.5,253.7 334.6,248.1 335.7,242.6 336.9,237.2 338.0,231.7 339.1,226.4 340.2,221.1 341.3,215.8 342.4,210.6 343.5,205.6 344.6,200.5 345.6,195.6 346.6,190.8 347.5,186.1 348.4,181.4 349.4,176.9 350.3,172.5 351.4,168.2 352.5,164.1 353.7,160.0 354.8,156.1 356.0,152.4 357.1,148.8 358.3,145.3 359.4,142.0 360.5,138.8 361.6,135.9 362.8,133.0 363.9,130.4 365.0,127.9 366.1,125.5 367.2,123.4 368.3,121.4 369.5,119.6 370.6,118.0 371.7,116.6 372.8,115.4 373.9,114.3 375.0,113.4 376.2,112.8 377.3,112.3 378.4,112.0 379.5,111.9 380.6,112.0 381.8,112.3 382.9,112.8 384.0,113.4 385.2,114.3 386.3,115.4 387.4,116.6 388.6,118.0 389.7,119.6 390.8,121.4 392.0,123.4 393.1,125.5 394.2,127.9 395.4,130.4 396.5,133.0 397.6,135.9 398.7,138.8 399.8,142.0 401.0,145.3 402.1,148.8 403.2,152.4 404.3,156.1 405.4,160.0 406.5,164.1 407.6,168.2 408.7,172.5 409.8,176.9 410.8,181.4 411.7,186.1 412.7,190.8 413.8,195.6 414.8,200.5 415.9,205.6 417.0,210.6 418.1,215.8 419.2,221.1 420.3,226.4 421.4,231.7 422.5,237.2 423.6,242.6 424.7,248.1 425.8,253.7 426.9,259.3 428.0,264.9 429.1,270.5 430.3,276.1 431.4,281.8 432.5,287.4 433.6,293.0 434.7,298.7 435.8,304.3 437.0,309.9 438.1,315.4 439.2,321.0 440.3,326.5 441.4,331.9 442.5,337.4 443.6,342.7 444.7,348.0 445.8,353.3 447.0,358.5 448.1,363.6 449.2,368.6 450.4,373.6 451.5,378.5 452.7,383.3 453.8,388.0 454.9,392.7 456.0,397.2 457.1,401.6 458.2,406.0 459.3,410.2 460.4,414.4 461.5,418.4 462.6,422.3 463.7,426.1 464.7,429.8 465.8,433.4 466.9,436.9 468.0,440.2 469.0,443.5 470.1,446.6 471.2,449.6 472.2,452.5 473.3,455.2 474.3,457.9 475.4,460.4 476.5,462.8 477.5,465.0 478.6,467.2 479.7,469.2 480.8,471.1 481.9,472.9 483.0,474.6 484.1,476.2 485.2,477.8 486.4,479.2 487.5,480.6 488.6,481.8 489.7,482.9 490.8,484.0 491.9,484.9 493.0,485.7 494.2,486.4 495.3,487.0 496.4,487.5 497.5,487.9 498.6,488.2 499.7,488.5 500.9,488.6 502.0,488.7 503.1,488.7 504.2,488.6 505.3,488.5 506.5,488.4 507.6,488.2 508.7,487.9 509.8,487.6 510.9,487.3 512.0,487.0 513.2,486.6 514.3,486.2 515.4,485.7 516.5,485.3 517.6,484.8 518.7,484.3 519.8,483.7 521.0,483.2 522.1,482.7 523.2,482.1 524.3,481.5 525.4,481.0 526.5,480.4 527.6,479.8 528.7,479.3 529.8,478.7 530.9,478.2 532.0,477.6 533.1,477.1 534.2,476.6 535.3,476.1 536.4,475.6 537.5,475.2 538.6,474.8 539.7,474.4 540.8,474.0 541.9,473.7 543.0,473.4 544.1,473.1 545.2,472.9 546.3,472.7 547.4,472.5 548.5,472.4 549.6,472.3 550.7,472.2 551.8,472.2 552.9,472.2 554.0,472.2 555.1,472.2 556.3,472.3 557.4,472.4 558.5,472.6 559.6,472.7 560.7,472.9 561.8,473.2 562.9,473.4 564.0,473.7 565.1,474.0 566.2,474.3 567.3,474.6 568.4,475.0 569.5,475.3 570.6,475.7 571.7,476.1 572.8,476.5 573.9,476.9 575.0,477.4 576.1,477.8 577.2,478.2 578.3,478.7 579.4,479.1 580.5,479.6 581.6,480.0 582.7,480.5 583.8,481.0 584.9,481.4 586.0,481.9 587.1,482.3 588.2,482.8 589.3,483.2 590.4,483.7 591.5,484.1 592.6,484.5 593.7,484.9 594.8,485.3 595.9,485.7 597.0,486.1 598.1,486.5 599.2,486.8 600.4,487.2 601.5,487.5 602.6,487.8 603.7,488.1 604.8,488.4 605.9,488.7 607.0,489.0 608.1,489.2 609.2,489.4 610.3,489.7 611.4,489.9 612.5,490.0 613.6,490.2 614.7,490.4 615.8,490.5 616.9,490.6 618.0,490.7 619.1,490.8 620.2,490.9 621.3,490.9 622.4,491.0 623.5,491.0 624.6,491.0 625.7,491.0 626.8,491.0 627.9,490.9 629.0,490.9 630.1,490.8 631.2,490.7 632.3,490.6 633.4,490.5 634.5,490.4 635.6,490.3 636.7,490.2 637.8,490.0 638.9,489.9 640.0,489.7 641.1,489.5 642.2,489.4 643.3,489.2 644.5,489.0 645.6,488.8 646.7,488.6 647.8,488.5 648.9,488.3 650.0,488.1 651.1,487.9 652.2,487.7 653.3,487.5 654.4,487.3 655.5,487.1 656.6,487.0 657.7,486.8 658.8,486.6 659.9,486.4 661.0,486.3 662.1,486.1 663.2,486.0 664.3,485.8 665.4,485.7 666.5,485.6 667.6,485.4 668.7,485.3 669.8,485.2 670.9,485.1 672.0,485.1 673.1,485.0 674.2,484.9 675.3,484.9 676.4,484.8 677.5,484.8 678.6,484.8 679.7,484.8 680.8,484.8 681.9,484.8 683.0,484.8 684.1,484.8 685.2,484.8 686.3,484.9 687.4,484.9 688.6,485.0 689.7,485.1 690.8,485.2 691.9,485.2 693.0,485.3 694.1,485.5 695.2,485.6 696.3,485.7 697.4,485.8 698.5,485.9 699.6,486.1 700.7,486.2 701.8,486.4 702.9,486.5 704.0,486.7 705.1,486.8 706.2,487.0 707.3,487.1 708.4,487.3 709.5,487.5 710.6,487.6 711.7,487.8 712.8,488.0 713.9,488.1 715.0,488.3 716.1,488.4 717.2,488.6 718.3,488.8 719.4,488.9 720.5,489.1 721.6,489.2 722.7,489.4 723.8,489.5 724.9,489.6 726.0,489.8 727.1,489.9 728.2,490.0 729.3,490.1 730.4,490.2 731.5,490.3 732.7,490.4" fill="none" stroke="#F222DC" stroke-width="3.5" stroke-linejoin="round"/>
<polyline points="38.8,490.4 39.9,490.3 41.0,490.2 42.1,490.1 43.2,490.0 44.3,489.9 45.4,489.7 46.5,489.6 47.6,489.5 48.7,489.3 49.8,489.2 50.9,489.0 52.0,488.9 53.1,488.7 54.2,488.5 55.3,488.4 56.5,488.2 57.6,488.0 58.7,487.9 59.8,487.7 60.9,487.5 62.0,487.4 63.1,487.2 64.2,487.0 65.3,486.9 66.4,486.7 67.5,486.5 68.6,486.4 69.7,486.2 70.8,486.1 71.9,485.9 73.0,485.8 74.1,485.7 75.2,485.5 76.3,485.4 77.4,485.3 78.5,485.2 79.6,485.1 80.7,485.0 81.8,484.9 82.9,484.8 84.0,484.8 85.1,484.7 86.2,484.7 87.3,484.6 88.4,484.6 89.5,484.6 90.6,484.6 91.7,484.6 92.8,484.6 93.9,484.6 95.0,484.7 96.1,484.7 97.2,484.8 98.3,484.8 99.4,484.9 100.6,485.0 101.7,485.1 102.8,485.2 103.9,485.3 105.0,485.4 106.1,485.5 107.2,485.7 108.3,485.8 109.4,486.0 110.5,486.1 111.6,486.3 112.7,486.5 113.8,486.7 114.9,486.8 116.0,487.0 117.1,487.2 118.2,487.4 119.3,487.6 120.4,487.8 121.5,488.0 122.6,488.2 123.7,488.4 124.8,488.6 125.9,488.8 127.0,489.0 128.1,489.2 129.2,489.3 130.3,489.5 131.4,489.7 132.5,489.8 133.6,490.0 134.7,490.1 135.8,490.3 136.9,490.4 138.0,490.5 139.1,490.6 140.2,490.7 141.3,490.8 142.4,490.9 143.5,490.9 144.7,491.0 145.8,491.0 146.9,491.0 148.0,491.0 149.1,491.0 150.2,490.9 151.3,490.9 152.4,490.8 153.5,490.7 154.6,490.6 155.7,490.5 156.8,490.3 157.9,490.2 159.0,490.0 160.1,489.8 161.2,489.6 162.3,489.4 163.4,489.2 164.5,488.9 165.6,488.6 166.7,488.3 167.8,488.0 168.9,487.7 170.0,487.4 171.1,487.1 172.2,486.7 173.3,486.3 174.4,486.0 175.5,485.6 176.6,485.2 177.7,484.7 178.8,484.3 179.9,483.9 181.0,483.5 182.1,483.0 183.2,482.5 184.3,482.1 185.4,481.6 186.5,481.2 187.6,480.7 188.8,480.2 189.9,479.7 191.0,479.3 192.1,478.8 193.2,478.3 194.3,477.9 195.4,477.4 196.5,477.0 197.6,476.5 198.7,476.1 199.8,475.7 200.9,475.3 202.0,474.9 203.1,474.5 204.2,474.2 205.3,473.8 206.4,473.5 207.5,473.2 208.6,472.9 209.7,472.7 210.8,472.5 211.9,472.2 213.0,472.1 214.1,471.9 215.2,471.8 216.3,471.7 217.4,471.7 218.5,471.6 219.6,471.6 220.7,471.7 221.8,471.8 222.9,471.9 224.0,472.0 225.1,472.2 226.2,472.4 227.3,472.6 228.4,472.9 229.5,473.2 230.6,473.6 231.7,473.9 232.9,474.3 234.0,474.8 235.1,475.2 236.2,475.7 237.3,476.2 238.4,476.7 239.5,477.3 240.6,477.8 241.7,478.4 242.8,478.9 243.9,479.5 245.0,480.1 246.1,480.7 247.2,481.3 248.3,481.8 249.4,482.4 250.5,483.0 251.6,483.5 252.7,484.1 253.8,484.6 254.9,485.1 256.0,485.6 257.1,486.0 258.2,486.5 259.3,486.9 260.4,487.2 261.5,487.5 262.6,487.8 263.8,488.1 264.9,488.3 266.0,488.4 267.1,488.6 268.2,488.6 269.3,488.6 270.4,488.5 271.5,488.4 272.6,488.2 273.7,487.8 274.8,487.4 275.9,486.9 277.0,486.3 278.1,485.6 279.3,484.7 280.4,483.8 281.5,482.7 282.6,481.5 283.7,480.3 284.8,478.9 285.9,477.4 287.0,475.8 288.1,474.2 289.2,472.4 290.4,470.6 291.5,468.6 292.6,466.5 293.7,464.3 294.8,462.0 296.0,459.5 297.1,456.9 298.3,454.2 299.4,451.4 300.5,448.5 301.7,445.4 302.8,442.2 303.9,438.9 305.0,435.4 306.1,431.8 307.3,428.2 308.4,424.4 309.5,420.4 310.6,416.4 311.7,412.3 312.9,408.0 314.0,403.7 315.1,399.2 316.2,394.6 317.4,390.0 318.5,385.2 319.6,380.4 320.8,375.4 321.9,370.4 323.0,365.3 324.2,360.1 325.3,354.8 326.4,349.5 327.5,344.1 328.6,338.7 329.7,333.2 330.9,327.6 332.0,322.0 333.1,316.3 334.2,310.6 335.3,304.9 336.4,299.2 337.5,293.4 338.6,287.6 339.6,281.8 340.7,276.0 341.7,270.2 342.7,264.5 343.8,258.7 344.8,252.9 345.9,247.2 346.9,241.5 347.9,235.8 348.9,230.2 349.9,224.6 350.9,219.1 351.9,213.7 352.9,208.3 354.0,203.0 355.1,197.7 356.1,192.6 357.2,187.5 358.3,182.6 359.4,177.7 360.5,173.0 361.6,168.3 362.7,163.8 363.8,159.4 364.9,155.1 366.1,151.0 367.2,147.0 368.3,143.1 369.4,139.4 370.4,135.9 371.4,132.5 372.3,129.2 373.3,126.1 374.4,123.2 375.5,120.5 376.6,117.9 377.8,115.5 378.9,113.3 380.0,111.3 381.1,109.5 382.2,107.8 383.3,106.3 384.4,105.1 385.5,104.0 386.6,103.1 387.7,102.4 388.9,101.9 390.0,101.6 391.1,101.5 392.2,101.6 393.3,101.9 394.5,102.4 395.6,103.1 396.7,104.0 397.9,105.1 399.0,106.3 400.1,107.8 401.3,109.5 402.4,111.3 403.5,113.3 404.7,115.5 405.8,117.9 407.0,120.5 408.1,123.2 409.3,126.1 410.6,129.2 412.0,132.5 413.4,135.9 414.7,139.4 415.9,143.1 417.1,147.0 418.2,151.0 419.4,155.1 420.5,159.4 421.6,163.8 422.7,168.3 423.8,173.0 424.8,177.7 425.8,182.6 426.8,187.5 427.8,192.6 428.8,197.7 429.9,203.0 431.0,208.3 432.1,213.7 433.2,219.1 434.3,224.6 435.4,230.2 436.5,235.8 437.6,241.5 438.7,247.2 439.8,252.9 440.9,258.7 442.0,264.5 443.1,270.2 444.2,276.0 445.3,281.8 446.4,287.6 447.5,293.4 448.6,299.2 449.7,304.9 450.7,310.6 451.8,316.3 452.9,322.0 454.0,327.6 455.0,333.2 456.1,338.7 457.2,344.1 458.2,349.5 459.3,354.8 460.3,360.1 461.4,365.3 462.4,370.4 463.4,375.4 464.5,380.4 465.5,385.2 466.5,390.0 467.5,394.6 468.6,399.2 469.6,403.7 470.7,408.0 471.7,412.3 472.7,416.4 473.8,420.4 474.8,424.4 475.9,428.2 476.9,431.8 478.0,435.4 479.1,438.9 480.1,442.2 481.2,445.4 482.3,448.5 483.5,451.4 484.6,454.2 485.7,456.9 486.8,459.5 488.0,462.0 489.1,464.3 490.2,466.5 491.3,468.6 492.5,470.6 493.6,472.4 494.7,474.2 495.8,475.8 496.9,477.4 498.1,478.9 499.2,480.3 500.3,481.5 501.4,482.7 502.6,483.8 503.7,484.7 504.8,485.6 505.9,486.3 507.0,486.9 508.2,487.4 509.3,487.8 510.4,488.2 511.5,488.4 512.6,488.5 513.8,488.6 514.9,488.6 516.0,488.6 517.1,488.4 518.2,488.3 519.4,488.1 520.5,487.8 521.6,487.5 522.7,487.2 523.8,486.9 524.9,486.5 526.0,486.0 527.2,485.6 528.3,485.1 529.4,484.6 530.5,484.1 531.6,483.5 532.7,483.0 533.8,482.4 534.9,481.8 536.0,481.3 537.1,480.7 538.2,480.1 539.3,479.5 540.4,478.9 541.6,478.4 542.7,477.8 543.8,477.3 544.9,476.7 546.0,476.2 547.1,475.7 548.2,475.2 549.3,474.8 550.4,474.3 551.5,473.9 552.6,473.6 553.7,473.2 554.8,472.9 555.9,472.6 557.0,472.4 558.1,472.2 559.2,472.0 560.3,471.9 561.4,471.8 562.5,471.7 563.6,471.6 564.7,471.6 565.8,471.7 566.9,471.7 568.0,471.8 569.1,471.9 570.2,472.1 571.3,472.2 572.4,472.5 573.5,472.7 574.6,472.9 575.7,473.2 576.8,473.5 577.9,473.8 579.0,474.2 580.1,474.5 581.2,474.9 582.3,475.3 583.4,475.7 584.5,476.1 585.7,476.5 586.8,477.0 587.9,477.4 589.0,477.9 590.1,478.3 591.2,478.8 592.3,479.3 593.4,479.7 594.5,480.2 595.6,480.7 596.7,481.2 597.8,481.6 598.9,482.1 600.0,482.5 601.1,483.0 602.2,483.5 603.3,483.9 604.4,484.3 605.5,484.7 606.6,485.2 607.7,485.6 608.8,486.0 609.9,486.3 611.0,486.7 612.1,487.1 613.2,487.4 614.3,487.7 615.4,488.0 616.5,488.3 617.6,488.6 618.7,488.9 619.8,489.2 620.9,489.4 622.0,489.6 623.1,489.8 624.2,490.0 625.3,490.2 626.4,490.3 627.5,490.5 628.6,490.6 629.8,490.7 630.9,490.8 632.0,490.9 633.1,490.9 634.2,491.0 635.3,491.0 636.4,491.0 637.5,491.0 638.6,491.0 639.7,490.9 640.8,490.9 641.9,490.8 643.0,490.7 644.1,490.6 645.2,490.5 646.3,490.4 647.4,490.3 648.5,490.1 649.6,490.0 650.7,489.8 651.8,489.7 652.9,489.5 654.0,489.3 655.1,489.2 656.2,489.0 657.3,488.8 658.4,488.6 659.5,488.4 660.6,488.2 661.7,488.0 662.8,487.8 663.9,487.6 665.0,487.4 666.1,487.2 667.2,487.0 668.3,486.8 669.4,486.7 670.5,486.5 671.6,486.3 672.7,486.1 673.9,486.0 675.0,485.8 676.1,485.7 677.2,485.5 678.3,485.4 679.4,485.3 680.5,485.2 681.6,485.1 682.7,485.0 683.8,484.9 684.9,484.8 686.0,484.8 687.1,484.7 688.2,484.7 689.3,484.6 690.4,484.6 691.5,484.6 692.6,484.6 693.7,484.6 694.8,484.6 695.9,484.6 697.0,484.7 698.1,484.7 699.2,484.8 700.3,484.8 701.4,484.9 702.5,485.0 703.6,485.1 704.7,485.2 705.8,485.3 706.9,485.4 708.0,485.5 709.1,485.7 710.2,485.8 711.3,485.9 712.4,486.1 713.5,486.2 714.6,486.4 715.7,486.5 716.8,486.7 718.0,486.9 719.1,487.0 720.2,487.2 721.3,487.4 722.4,487.5 723.5,487.7 724.6,487.9 725.7,488.0 726.8,488.2 727.9,488.4 729.0,488.5 730.1,488.7 731.2,488.9 732.3,489.0 733.4,489.2 734.5,489.3 735.6,489.5 736.7,489.6 737.8,489.7 738.9,489.9 740.0,490.0 741.1,490.1 742.2,490.2 743.3,490.3 744.4,490.4" fill="none" stroke="#00D630" stroke-width="3.5" stroke-linejoin="round"/>
<polyline points="42.6,490.4 43.7,490.3 44.8,490.2 45.9,490.1 47.0,490.0 48.1,489.8 49.2,489.7 50.4,489.6 51.5,489.4 52.6,489.3 53.7,489.2 54.8,489.0 55.9,488.8 57.0,488.7 58.1,488.5 59.2,488.4 60.3,488.2 61.4,488.0 62.5,487.9 63.6,487.7 64.7,487.5 65.8,487.3 66.9,487.2 68.0,487.0 69.1,486.8 70.2,486.7 71.3,486.5 72.4,486.3 73.5,486.2 74.6,486.0 75.7,485.9 76.8,485.8 77.9,485.6 79.0,485.5 80.1,485.4 81.2,485.3 82.3,485.1 83.4,485.0 84.5,485.0 85.6,484.9 86.7,484.8 87.8,484.7 88.9,484.7 90.0,484.6 91.1,484.6 92.2,484.6 93.3,484.5 94.5,484.5 95.6,484.5 96.7,484.5 97.8,484.6 98.9,484.6 100.0,484.7 101.1,484.7 102.2,484.8 103.3,484.8 104.4,484.9 105.5,485.0 106.6,485.1 107.7,485.2 108.8,485.4 109.9,485.5 111.0,485.6 112.1,485.8 113.2,485.9 114.3,486.1 115.4,486.3 116.5,486.4 117.6,486.6 118.7,486.8 119.8,487.0 120.9,487.2 122.0,487.4 123.1,487.6 124.2,487.8 125.3,488.0 126.4,488.2 127.5,488.4 128.6,488.6 129.7,488.8 130.8,488.9 131.9,489.1 133.0,489.3 134.1,489.5 135.2,489.7 136.3,489.8 137.4,490.0 138.6,490.1 139.7,490.3 140.8,490.4 141.9,490.5 143.0,490.6 144.1,490.7 145.2,490.8 146.3,490.9 147.4,490.9 148.5,491.0 149.6,491.0 150.7,491.0 151.8,491.0 152.9,491.0 154.0,490.9 155.1,490.9 156.2,490.8 157.3,490.7 158.4,490.6 159.5,490.5 160.6,490.3 161.7,490.2 162.8,490.0 163.9,489.8 165.0,489.6 166.1,489.4 167.2,489.1 168.3,488.9 169.4,488.6 170.5,488.3 171.6,488.0 172.7,487.7 173.8,487.4 174.9,487.0 176.0,486.7 177.1,486.3 178.2,485.9 179.3,485.5 180.4,485.1 181.5,484.7 182.7,484.3 183.8,483.8 184.9,483.4 186.0,482.9 187.1,482.5 188.2,482.0 189.3,481.6 190.4,481.1 191.5,480.6 192.6,480.1 193.7,479.7 194.8,479.2 195.9,478.7 197.0,478.2 198.1,477.8 199.2,477.3 200.3,476.9 201.4,476.4 202.5,476.0 203.6,475.6 204.7,475.2 205.8,474.8 206.9,474.4 208.0,474.0 209.1,473.7 210.2,473.4 211.3,473.1 212.4,472.8 213.5,472.5 214.6,472.3 215.7,472.1 216.8,471.9 217.9,471.8 219.0,471.7 220.1,471.6 221.2,471.5 222.3,471.5 223.4,471.5 224.5,471.5 225.6,471.6 226.8,471.7 227.9,471.9 229.0,472.0 230.1,472.3 231.2,472.5 232.3,472.8 233.4,473.1 234.5,473.4 235.6,473.8 236.7,474.2 237.8,474.6 238.9,475.1 240.0,475.6 241.1,476.1 242.2,476.6 243.3,477.1 244.4,477.7 245.5,478.3 246.6,478.8 247.7,479.4 248.8,480.0 249.9,480.6 251.0,481.2 252.1,481.8 253.2,482.4 254.4,482.9 255.5,483.5 256.6,484.0 257.7,484.5 258.8,485.1 260.0,485.5 261.1,486.0 262.2,486.4 263.3,486.8 264.5,487.2 265.6,487.5 266.7,487.8 267.9,488.1 269.0,488.3 270.1,488.4 271.3,488.5 272.4,488.6 273.5,488.6 274.7,488.5 275.8,488.4 276.9,488.1 278.1,487.8 279.2,487.4 280.3,486.9 281.4,486.3 282.6,485.5 283.7,484.7 284.8,483.7 286.0,482.7 287.1,481.5 288.2,480.2 289.3,478.8 290.4,477.3 291.5,475.7 292.6,474.0 293.8,472.3 294.9,470.4 296.0,468.4 297.1,466.3 298.2,464.1 299.3,461.8 300.4,459.3 301.5,456.7 302.6,454.0 303.7,451.1 304.7,448.1 305.8,445.0 306.9,441.8 308.0,438.4 309.1,435.0 310.2,431.4 311.3,427.7 312.4,423.8 313.5,419.9 314.6,415.8 315.7,411.6 316.8,407.4 317.9,403.0 319.0,398.5 320.1,393.9 321.2,389.2 322.3,384.4 323.5,379.5 324.6,374.5 325.7,369.4 326.9,364.3 328.0,359.1 329.1,353.8 330.2,348.4 331.3,343.0 332.4,337.5 333.5,331.9 334.6,326.3 335.7,320.7 336.7,315.0 337.8,309.2 338.9,303.5 339.9,297.7 340.9,291.9 341.9,286.0 342.8,280.2 343.7,274.3 344.6,268.5 345.6,262.7 346.6,256.8 347.6,251.0 348.7,245.3 349.8,239.5 350.9,233.8 352.0,228.2 353.1,222.5 354.2,217.0 355.3,211.5 356.4,206.1 357.5,200.7 358.6,195.4 359.7,190.2 360.8,185.1 362.0,180.1 363.1,175.2 364.2,170.5 365.3,165.8 366.4,161.2 367.6,156.8 368.7,152.5 369.8,148.3 371.0,144.3 372.1,140.4 373.2,136.6 374.2,133.1 375.3,129.6 376.3,126.4 377.4,123.3 378.5,120.3 379.6,117.6 380.8,115.0 381.9,112.6 383.1,110.4 384.2,108.3 385.3,106.5 386.5,104.8 387.6,103.3 388.8,102.0 389.9,101.0 391.1,100.1 392.2,99.4 393.3,98.9 394.4,98.6 395.5,98.5 396.6,98.6 397.7,98.9 398.8,99.4 399.8,100.1 400.9,101.0 401.9,102.0 403.0,103.3 404.0,104.8 405.1,106.5 406.1,108.3 407.2,110.4 408.2,112.6 409.3,115.0 410.3,117.6 411.4,120.3 412.5,123.3 413.6,126.4 414.8,129.6 416.1,133.1 417.4,136.6 418.6,140.4 419.8,144.3 421.0,148.3 422.2,152.5 423.4,156.8 424.5,161.2 425.7,165.8 426.8,170.5 427.9,175.2 429.0,180.1 430.1,185.1 431.2,190.2 432.3,195.4 433.4,200.7 434.5,206.1 435.7,211.5 436.8,217.0 438.0,222.5 439.1,228.2 440.3,233.8 441.5,239.5 442.6,245.3 443.7,251.0 444.8,256.8 445.9,262.7 447.0,268.5 448.1,274.3 449.2,280.2 450.3,286.0 451.4,291.9 452.5,297.7 453.6,303.5 454.7,309.2 455.8,315.0 456.9,320.7 458.0,326.3 459.1,331.9 460.2,337.5 461.2,343.0 462.3,348.4 463.4,353.8 464.4,359.1 465.5,364.3 466.5,369.4 467.5,374.5 468.5,379.5 469.5,384.4 470.5,389.2 471.6,393.9 472.6,398.5 473.7,403.0 474.7,407.4 475.8,411.6 476.8,415.8 477.9,419.9 479.0,423.8 480.0,427.7 481.1,431.4 482.2,435.0 483.3,438.4 484.4,441.8 485.5,445.0 486.6,448.1 487.7,451.1 488.8,454.0 490.0,456.7 491.1,459.3 492.3,461.8 493.4,464.1 494.5,466.3 495.6,468.4 496.8,470.4 497.9,472.3 499.0,474.0 500.1,475.7 501.2,477.3 502.3,478.8 503.4,480.2 504.5,481.5 505.6,482.7 506.7,483.7 507.8,484.7 508.9,485.5 510.0,486.3 511.1,486.9 512.3,487.4 513.4,487.8 514.5,488.1 515.6,488.4 516.7,488.5 517.8,488.6 518.9,488.6 520.0,488.5 521.1,488.4 522.2,488.3 523.3,488.1 524.4,487.8 525.5,487.5 526.6,487.2 527.7,486.8 528.8,486.4 529.9,486.0 531.0,485.5 532.1,485.1 533.2,484.5 534.3,484.0 535.4,483.5 536.6,482.9 537.7,482.4 538.8,481.8 539.9,481.2 541.0,480.6 542.1,480.0 543.2,479.4 544.3,478.8 545.4,478.3 546.5,477.7 547.6,477.1 548.7,476.6 549.8,476.1 550.9,475.6 552.0,475.1 553.1,474.6 554.2,474.2 555.3,473.8 556.4,473.4 557.5,473.1 558.6,472.8 559.7,472.5 560.8,472.3 561.9,472.0 563.0,471.9 564.1,471.7 565.2,471.6 566.3,471.5 567.4,471.5 568.5,471.5 569.6,471.5 570.7,471.6 571.8,471.7 572.9,471.8 574.0,471.9 575.1,472.1 576.2,472.3 577.3,472.5 578.4,472.8 579.6,473.1 580.7,473.4 581.8,473.7 582.9,474.0 584.0,474.4 585.1,474.8 586.2,475.2 587.3,475.6 588.4,476.0 589.5,476.4 590.6,476.9 591.7,477.3 592.8,477.8 593.9,478.2 595.0,478.7 596.1,479.2 597.2,479.7 598.3,480.1 599.4,480.6 600.5,481.1 601.6,481.6 602.7,482.0 603.8,482.5 604.9,482.9 606.0,483.4 607.1,483.8 608.2,484.3 609.3,484.7 610.4,485.1 611.5,485.5 612.6,485.9 613.7,486.3 614.8,486.7 615.9,487.0 617.0,487.4 618.1,487.7 619.2,488.0 620.3,488.3 621.4,488.6 622.5,488.9 623.7,489.1 624.8,489.4 625.9,489.6 627.0,489.8 628.1,490.0 629.2,490.2 630.3,490.3 631.4,490.5 632.5,490.6 633.6,490.7 634.7,490.8 635.8,490.9 636.9,490.9 638.0,491.0 639.1,491.0 640.2,491.0 641.3,491.0 642.4,491.0 643.5,490.9 644.6,490.9 645.7,490.8 646.8,490.7 647.9,490.6 649.0,490.5 650.1,490.4 651.2,490.3 652.3,490.1 653.4,490.0 654.5,489.8 655.6,489.7 656.7,489.5 657.8,489.3 658.9,489.1 660.0,488.9 661.1,488.8 662.2,488.6 663.3,488.4 664.4,488.2 665.5,488.0 666.6,487.8 667.8,487.6 668.9,487.4 670.0,487.2 671.1,487.0 672.2,486.8 673.3,486.6 674.4,486.4 675.5,486.3 676.6,486.1 677.7,485.9 678.8,485.8 679.9,485.6 681.0,485.5 682.1,485.4 683.2,485.2 684.3,485.1 685.4,485.0 686.5,484.9 687.6,484.8 688.7,484.8 689.8,484.7 690.9,484.7 692.0,484.6 693.1,484.6 694.2,484.5 695.3,484.5 696.4,484.5 697.5,484.5 698.6,484.6 699.7,484.6 700.8,484.6 701.9,484.7 703.0,484.7 704.1,484.8 705.2,484.9 706.3,485.0 707.4,485.0 708.5,485.1 709.6,485.3 710.7,485.4 711.9,485.5 713.0,485.6 714.1,485.8 715.2,485.9 716.3,486.0 717.4,486.2 718.5,486.3 719.6,486.5 720.7,486.7 721.8,486.8 722.9,487.0 724.0,487.2 725.1,487.3 726.2,487.5 727.3,487.7 728.4,487.9 729.5,488.0 730.6,488.2 731.7,488.4 732.8,488.5 733.9,488.7 735.0,488.8 736.1,489.0 737.2,489.2 738.3,489.3 739.4,489.4 740.5,489.6 741.6,489.7 742.7,489.8 743.8,490.0 744.9,490.1 746.0,490.2 747.1,490.3 748.2,490.4" fill="none" stroke="#DC1208" stroke-width="3.6" stroke-linejoin="round"/>
</g>
<g>
<text transform="translate(84.1 517.1) scale(1.0 1)" text-anchor="middle" class="tk">1548</text>
<text transform="translate(231.2 517.1) scale(1.0 1)" text-anchor="middle" class="tk">1549</text>
<text transform="translate(378.2 517.1) scale(1.0 1)" text-anchor="middle" class="tk">1550</text>
<text transform="translate(525.2 517.1) scale(1.0 1)" text-anchor="middle" class="tk">1551</text>
<text transform="translate(672.3 517.1) scale(1.0 1)" text-anchor="middle" class="tk">1552</text>
<text transform="translate(76.0 498.5) scale(1.0 1)" text-anchor="end" class="tk">0</text>
<text transform="translate(76.0 404.2) scale(1.0 1)" text-anchor="end" class="tk">0.2</text>
<text transform="translate(76.0 309.9) scale(1.0 1)" text-anchor="end" class="tk">0.4</text>
<text transform="translate(76.0 215.7) scale(1.0 1)" text-anchor="end" class="tk">0.6</text>
<text transform="translate(76.0 121.4) scale(1.0 1)" text-anchor="end" class="tk">0.8</text>
<text transform="translate(76.0 27.1) scale(1.0 1)" text-anchor="end" class="tk">1</text>
</g>
<g fill="none">
<path d="M116 118.9 H165" stroke="#0A0AA8" stroke-width="2.4"/>
<text transform="translate(169.4 112.0) scale(1.037 1)" text-anchor="start" class="lg">No dose</text>
<text transform="translate(169.6 130.8) scale(1.16 1)" text-anchor="start" class="sym">Δ</text>
<text transform="translate(183.8 130.8) scale(1.12 1)" text-anchor="start" class="sym">λ</text>
<text transform="translate(193.5 138.8) scale(1.037 1)" text-anchor="start" class="sub">B</text>
<text transform="translate(202.3 130.8) scale(1.037 1)" text-anchor="start" class="lg">=0 nm</text>
<path d="M116 164.6 H165" stroke="#000000" stroke-width="3.6"/>
<text transform="translate(169.4 157.7) scale(1.037 1)" text-anchor="start" class="lg">6.5 kGy</text>
<text transform="translate(169.6 176.5) scale(1.16 1)" text-anchor="start" class="sym">Δ</text>
<text transform="translate(183.8 176.5) scale(1.12 1)" text-anchor="start" class="sym">λ</text>
<text transform="translate(193.5 184.5) scale(1.037 1)" text-anchor="start" class="sub">B</text>
<text transform="translate(202.3 176.5) scale(1.037 1)" text-anchor="start" class="lg">=0.02 nm</text>
<path d="M116 210.3 H165" stroke="#00DCEA" stroke-width="3.6"/>
<text transform="translate(169.4 203.4) scale(1.037 1)" text-anchor="start" class="lg">10.4 kGy</text>
<text transform="translate(169.6 222.2) scale(1.16 1)" text-anchor="start" class="sym">Δ</text>
<text transform="translate(183.8 222.2) scale(1.12 1)" text-anchor="start" class="sym">λ</text>
<text transform="translate(193.5 230.2) scale(1.037 1)" text-anchor="start" class="sub">B</text>
<text transform="translate(202.3 222.2) scale(1.037 1)" text-anchor="start" class="lg">=0.02 nm</text>
<path d="M116 256.0 H165" stroke="#F222DC" stroke-width="3.6"/>
<text transform="translate(169.4 249.1) scale(1.037 1)" text-anchor="start" class="lg">102 kGy</text>
<text transform="translate(169.6 267.9) scale(1.16 1)" text-anchor="start" class="sym">Δ</text>
<text transform="translate(183.8 267.9) scale(1.12 1)" text-anchor="start" class="sym">λ</text>
<text transform="translate(193.5 275.9) scale(1.037 1)" text-anchor="start" class="sub">B</text>
<text transform="translate(202.3 267.9) scale(1.037 1)" text-anchor="start" class="lg">=0.06 nm</text>
<path d="M116 301.7 H165" stroke="#00D630" stroke-width="3.6"/>
<text transform="translate(169.4 294.8) scale(1.037 1)" text-anchor="start" class="lg">1049 kGy</text>
<text transform="translate(169.6 313.6) scale(1.16 1)" text-anchor="start" class="sym">Δ</text>
<text transform="translate(183.8 313.6) scale(1.12 1)" text-anchor="start" class="sym">λ</text>
<text transform="translate(193.5 321.6) scale(1.037 1)" text-anchor="start" class="sub">B</text>
<text transform="translate(202.3 313.6) scale(1.037 1)" text-anchor="start" class="lg">=0.14 nm</text>
<path d="M116 347.4 H165" stroke="#CC1212" stroke-width="3.6"/>
<text transform="translate(169.4 340.5) scale(1.037 1)" text-anchor="start" class="lg">1540 kGy</text>
<text transform="translate(169.6 359.3) scale(1.16 1)" text-anchor="start" class="sym">Δ</text>
<text transform="translate(183.8 359.3) scale(1.12 1)" text-anchor="start" class="sym">λ</text>
<text transform="translate(193.5 367.3) scale(1.037 1)" text-anchor="start" class="sub">B</text>
<text transform="translate(202.3 359.3) scale(1.037 1)" text-anchor="start" class="lg">=0.16 nm</text>
</g>
<text transform="translate(377.8 543.2) scale(1.025 1)" text-anchor="middle" class="ax">Wavelength (nm)</text>
<text transform="translate(39.2 253.5) rotate(-90) scale(1.015 1)" text-anchor="middle" class="ax">Reflection (Arb. unit)</text>
</svg>
</body></html>
